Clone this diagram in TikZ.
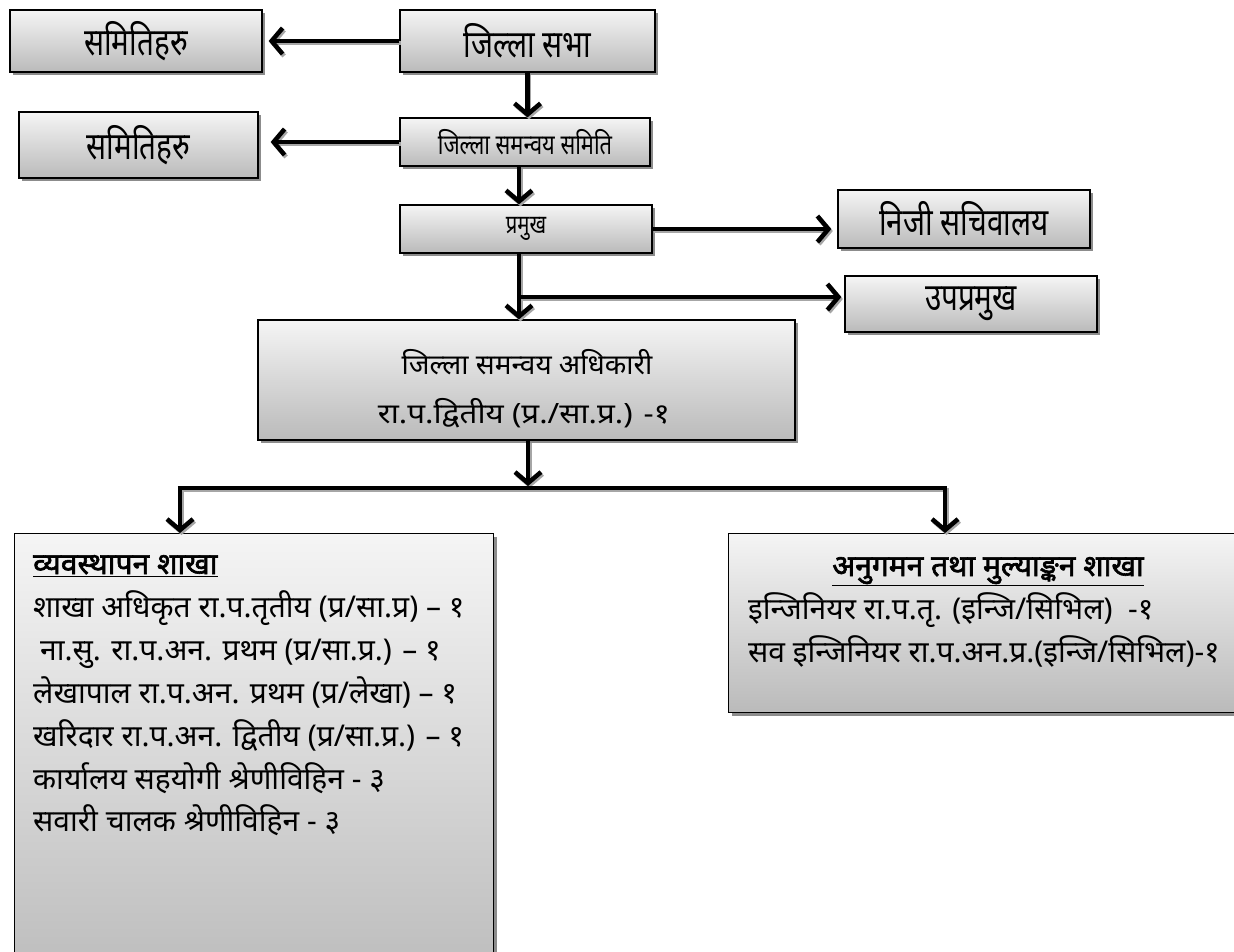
\documentclass[tikz,border=0pt]{standalone}
\usepackage{fontspec}
\newfontfamily\dev[Script=Devanagari]{Noto Sans}
\newfontfamily\devb[Script=Devanagari,FakeBold=2]{Noto Sans}
\newfontfamily\devn[Script=Devanagari,FakeStretch=0.78]{Noto Sans}
\newfontfamily\devw[Script=Devanagari,FakeStretch=1.12]{Noto Sans}
\usetikzlibrary{arrows.meta,shadows,calc}
\begin{document}
\begin{tikzpicture}[x=1pt,y=-1pt,
  box/.style={draw=black, line width=1.3pt, top color=black!4, bottom color=black!27,
    drop shadow={shadow xshift=3pt, shadow yshift=-3pt, fill=black!45, opacity=1},
    inner sep=0pt},
  arr/.style={line width=4.5pt, -{Straight Barb[length=11pt,width=26pt]}},
  arrsh/.style={arr, draw=black!35, transform canvas={xshift=1.5pt,yshift=-2pt}},
  seg/.style={line width=4.5pt},
  segsh/.style={seg, draw=black!35, transform canvas={xshift=1.5pt,yshift=-2pt}},
  big/.style={font=\devn\fontsize{38}{40}\selectfont},
  mid/.style={font=\dev\fontsize{28}{30}\selectfont, inner sep=0pt, anchor=base},
  txt/.style={font=\dev\fontsize{30}{32}\selectfont, inner sep=0pt, anchor=base west},
  head/.style={font=\devb\fontsize{30}{32}\selectfont, inner sep=0pt},
]
\useasboundingbox (0,0) rectangle (1234,951);
\clip (0,0) rectangle (1234,951);

% boxes
\node[box, minimum width=252pt, minimum height=62pt, big] (samitiA) at (136,41) {समितिहरु};
\node[box, minimum width=255pt, minimum height=62pt, big] (sabha) at (527.5,41) {जिल्ला सभा};
\node[box, minimum width=239pt, minimum height=66pt, big] (samitiB) at (138.5,145) {समितिहरु};
\node[box, minimum width=250pt, minimum height=48pt, font=\devn\fontsize{28}{30}\selectfont] (samanvay) at (525,142) {जिल्ला समन्वय समिति};
\node[box, minimum width=252pt, minimum height=48pt, font=\devn\fontsize{26}{28}\selectfont] (pramukh) at (526,229) {प्रमुख};
\node[box, minimum width=252pt, minimum height=58pt, big] (niji) at (964,219) {निजी सचिवालय};
\node[box, minimum width=252pt, minimum height=56pt, big] (upa) at (971,304) {उपप्रमुख};
\node[box, minimum width=537pt, minimum height=120pt] (adhikari) at (526.5,380) {};
\node[box, anchor=north west, minimum width=479pt, minimum height=460pt] (vyav) at (14,533) {};
\node[box, anchor=north west, minimum width=540pt, minimum height=179pt] (anu) at (728,533) {};

% texts in the officer box
\node[mid] (adh1) at (527,374) {जिल्ला समन्वय अधिकारी};
\node[mid, font=\devw\fontsize{28}{30}\selectfont] (adh2) at (524,423) {रा.प.द्वितीय (प्र./सा.प्र.) -१};

% texts in branch boxes
\node[head, anchor=base west] (vyav0) at (33,574) {\underline{व्यवस्थापन शाखा}};
\node[txt] (vyav1) at (33,617) {शाखा अधिकृत रा.प.तृतीय (प्र/सा.प्र) – १};
\node[txt] (vyav2) at (40,660) {ना.सु. रा.प.अन. प्रथम (प्र/सा.प्र.) – १};
\node[txt] (vyav3) at (33,703) {लेखापाल रा.प.अन. प्रथम (प्र/लेखा) – १};
\node[txt] (vyav4) at (33,746) {खरिदार रा.प.अन. द्वितीय (प्र/सा.प्र.) – १};
\node[txt] (vyav5) at (33,789) {कार्यालय सहयोगी श्रेणीविहिन - ३};
\node[txt] (vyav6) at (33,831) {सवारी चालक श्रेणीविहिन - ३};
\node[head, anchor=base] (anu0) at (988,576) {\underline{अनुगमन तथा मुल्याङ्कन शाखा}};
\node[txt] (anu1) at (748,619) {इन्जिनियर रा.प.तृ. (इन्जि/सिभिल)\ \ -१};
\node[txt] (anu2) at (748,662) {सव इन्जिनियर रा.प.अन.प्र.(इन्जि/सिभिल)-१};

% coordinates
\coordinate (pb) at (519,297);
\coordinate (jm) at (528,486);
\coordinate (jl) at (180,488);
\coordinate (jr) at (945,488);

% shadows of connectors
\draw[arrsh, shorten >=6pt] (sabha.west) -- (samitiA.east);
\draw[arrsh] (sabha.south) -- (sabha.south |- samanvay.north);
\draw[arrsh, shorten >=12pt] (samanvay.west) -- (samanvay.west -| samitiB.east);
\draw[arrsh] ([xshift=-6pt]samanvay.south) -- ([xshift=-6pt]samanvay.south |- pramukh.north);
\draw[arrsh, shorten >=6pt] (pramukh.east) -- (pramukh.east -| niji.west);
\draw[arrsh] ([xshift=-7pt]pramukh.south) -- ([xshift=-7pt]pramukh.south |- adhikari.north);
\draw[arrsh, shorten >=3pt] (pb) -- (pb -| upa.west);
\draw[arrsh] ([xshift=1.5pt]adhikari.south) -- (jm);
\draw[segsh] ([xshift=-2.25pt]jl) -- ([xshift=2.25pt]jr);
\draw[arrsh] (jl) -- (jl |- vyav.north);
\draw[arrsh] (jr) -- (jr |- anu.north);

% connectors
\draw[arr, shorten >=6pt] (sabha.west) -- (samitiA.east);
\draw[arr] (sabha.south) -- (sabha.south |- samanvay.north);
\draw[arr, shorten >=12pt] (samanvay.west) -- (samanvay.west -| samitiB.east);
\draw[arr] ([xshift=-6pt]samanvay.south) -- ([xshift=-6pt]samanvay.south |- pramukh.north);
\draw[arr, shorten >=6pt] (pramukh.east) -- (pramukh.east -| niji.west);
\draw[arr] ([xshift=-7pt]pramukh.south) -- ([xshift=-7pt]pramukh.south |- adhikari.north);
\draw[arr, shorten >=3pt] (pb) -- (pb -| upa.west);
\draw[arr] ([xshift=1.5pt]adhikari.south) -- (jm);
\draw[seg] ([xshift=-2.25pt]jl) -- ([xshift=2.25pt]jr);
\draw[arr] (jl) -- (jl |- vyav.north);
\draw[arr] (jr) -- (jr |- anu.north);
\end{tikzpicture}
\end{document}
